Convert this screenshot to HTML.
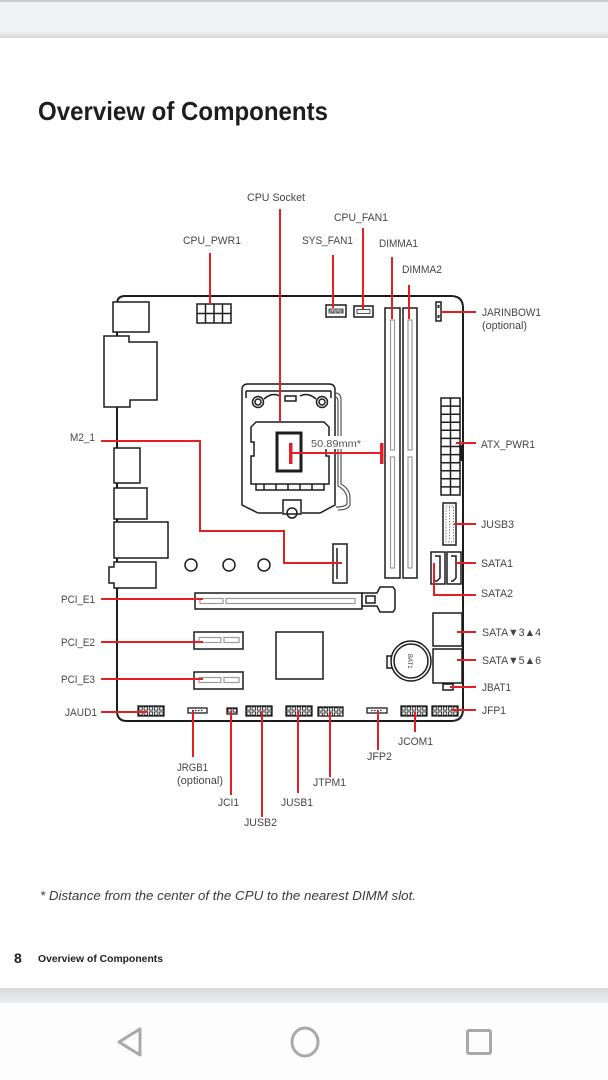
<!DOCTYPE html>
<html>
<head>
<meta charset="utf-8">
<style>
html,body{margin:0;padding:0;background:#fff;}
svg{display:block;}
.l{font-family:"Liberation Sans","DejaVu Sans",sans-serif;font-size:11px;fill:#454545;}
.r{stroke:#e31e24;stroke-width:2;fill:none;}
.b{stroke:#1c1c1c;stroke-width:1.5;fill:#fff;}
.bn{stroke:#1c1c1c;stroke-width:1.5;fill:none;}
.g{stroke:#9a9a9a;stroke-width:1.2;fill:none;}
</style>
</head>
<body>
<svg width="608" height="1080" viewBox="0 0 608 1080" xmlns="http://www.w3.org/2000/svg">
<defs>
  <pattern id="pins" width="5.2" height="5" patternUnits="userSpaceOnUse">
    <rect x="0.9" y="0.9" width="3.4" height="3.2" fill="none" stroke="#222" stroke-width="0.9"/>
  </pattern>
  <linearGradient id="tb" x1="0" y1="0" x2="0" y2="1">
    <stop offset="0" stop-color="#f0f1f3"/>
    <stop offset="1" stop-color="#d6d7d9"/>
  </linearGradient>
  <linearGradient id="bb" x1="0" y1="0" x2="0" y2="1">
    <stop offset="0" stop-color="#d8d9db"/>
    <stop offset="1" stop-color="#eeeff1"/>
  </linearGradient>
</defs>

<!-- top bar -->
<rect x="0" y="0" width="608" height="37" fill="#f0f1f3"/>
<rect x="0" y="0" width="608" height="2" fill="#c9cacc"/>
<rect x="0" y="32" width="608" height="6" fill="url(#tb)"/>

<!-- title -->
<text x="38" y="120" textLength="290" lengthAdjust="spacingAndGlyphs" style="font-family:'Liberation Sans',sans-serif;font-weight:bold;font-size:26px;fill:#1e1e1e;">Overview of Components</text>

<!-- board outline -->
<path d="M117,304 Q117,296 125,296 L451,296 Q463,296 463,308 L463,709 Q463,721 451,721 L127,721 Q117,721 117,711 Z" fill="none" stroke="#1c1c1c" stroke-width="2"/>

<!-- IO shield parts -->
<rect class="b" x="113" y="302" width="36" height="30"/>
<path class="b" d="M104,336 L129,336 L129,342 L157,342 L157,400 L130,400 L130,407 L104,407 Z"/>
<rect class="b" x="114" y="448" width="26" height="35"/>
<rect class="b" x="114" y="488" width="33" height="31"/>
<rect class="b" x="114" y="522" width="54" height="36"/>
<path class="b" d="M114,562 L156,562 L156,588 L114,588 L114,583 L109,583 L109,567 L114,567 Z"/>

<!-- CPU_PWR1 connector -->
<rect class="b" x="197" y="304" width="34" height="19"/>
<path class="bn" d="M205.5,304 V323 M214,304 V323 M222.5,304 V323 M197,313.5 H231"/>

<!-- fans -->
<rect class="b" x="326" y="305" width="20" height="12"/>
<rect x="329" y="309" width="14" height="4" fill="url(#pins)" stroke="#222" stroke-width="0.8"/>
<rect class="b" x="354" y="306" width="19" height="11"/>
<rect x="357" y="309.5" width="13" height="4" fill="none" stroke="#222" stroke-width="0.8"/>

<!-- DIMM slots -->
<rect class="b" x="385" y="308" width="15" height="270"/>
<rect class="b" x="403" y="308" width="14" height="270"/>
<rect class="g" x="390.5" y="320" width="4" height="130"/>
<rect class="g" x="390.5" y="457" width="4" height="111"/>
<rect class="g" x="408" y="320" width="4" height="130"/>
<rect class="g" x="408" y="457" width="4" height="111"/>

<!-- JARINBOW1 -->
<rect class="b" x="436" y="302" width="5" height="19"/>
<rect x="437.5" y="305" width="2" height="3" fill="#222"/>
<rect x="437.5" y="315" width="2" height="3" fill="#222"/>

<!-- ATX_PWR1 -->
<rect class="b" x="441" y="398" width="19" height="97"/>
<path class="bn" stroke-width="1.2" d="M450.5,398 V495 M441,406.1 H460 M441,414.2 H460 M441,422.3 H460 M441,430.3 H460 M441,438.4 H460 M441,446.5 H460 M441,454.6 H460 M441,462.7 H460 M441,470.8 H460 M441,478.8 H460 M441,486.9 H460"/>
<rect x="460" y="445" width="3" height="16" fill="#1c1c1c"/>

<!-- JUSB3 -->
<rect class="b" x="443" y="503" width="13" height="42"/>
<rect x="446" y="506" width="7.4" height="36" fill="none" stroke="#444" stroke-width="0.8" stroke-dasharray="1.2,1.6"/>
<path d="M449.7,507 V541" stroke="#444" stroke-width="0.8" stroke-dasharray="1.2,1.6"/>

<!-- SATA1/2 -->
<rect class="b" x="447" y="552" width="14" height="32"/>
<path class="bn" stroke-width="1.3" d="M451,556 L456,556 L456,578 L453,581 L451,581"/>
<rect class="b" x="431" y="552" width="14" height="32"/>
<path class="bn" stroke-width="1.3" d="M435,556 L440,556 L440,578 L437,581 L435,581"/>

<!-- CPU socket -->
<path class="bn" stroke-width="1.4" d="M258,513 L242,505 L242,390 Q242,384 248,384 L329,384 Q335,384 335,390 L335,505 L320,513 L302,513 M282,513 L258,513"/>
<path class="bn" stroke-width="1.2" d="M246,391 L331,391 M246,391 L246,398 M331,391 L331,398"/>
<rect class="bn" stroke-width="1.2" x="285" y="396" width="11" height="5"/>
<circle class="bn" stroke-width="1.3" cx="258" cy="402" r="5.5"/>
<circle class="bn" stroke-width="1" cx="258" cy="402" r="3"/>
<circle class="bn" stroke-width="1.3" cx="322" cy="402" r="5.5"/>
<circle class="bn" stroke-width="1" cx="322" cy="402" r="3"/>
<path class="bn" stroke-width="1.1" d="M264,399 Q272,392 280,396 M300,396 Q308,392 316,399"/>
<path fill="none" stroke="#555" stroke-width="1.2" d="M335,393 Q341,393 341,400 L341,484 Q350,489 350,498 L350,505 Q348,510 338,510 M335,397 Q338,397 338,402 L338,486 Q347,491 347,499 L347,504 Q345,507 336,507"/>
<path class="bn" stroke-width="1.4" d="M256,422 L324,422 L329,427 L329,442 L326,442 L326,456 L329,456 L329,484 L251,484 L251,456 L254,456 L254,442 L251,442 L251,427 Z"/>
<path class="bn" stroke-width="1.1" d="M256,484 L256,490 L324,490 L324,484 M264,484 V490 M276,484 V490 M288,484 V490 M300,484 V490 M312,484 V490"/>
<rect class="b" x="283" y="500" width="18" height="14"/>
<circle class="bn" stroke-width="1.3" cx="292" cy="513" r="5"/>
<rect x="277" y="433" width="24" height="38" fill="none" stroke="#1c1c1c" stroke-width="3"/>

<!-- distance marker -->
<rect x="310" y="436" width="52" height="13" fill="#fff"/>
<rect x="289" y="443" width="3.5" height="21" fill="#e31e24"/>
<path class="r" d="M291,453 H382"/>
<rect x="380" y="443" width="3.5" height="21" fill="#e31e24"/>
<text x="311" y="447" textLength="50" lengthAdjust="spacingAndGlyphs" style="font-family:'Liberation Sans',sans-serif;font-size:10.5px;fill:#555;">50.89mm*</text>

<!-- M.2 slot & holes -->
<rect class="b" x="333" y="544" width="14" height="39"/>
<path class="bn" stroke-width="1" d="M337,548 V579"/>
<circle class="bn" cx="191" cy="565" r="6"/>
<circle class="bn" cx="229" cy="565" r="6"/>
<circle class="bn" cx="264" cy="565" r="6"/>

<!-- PCIe slots -->
<rect class="b" x="195" y="593" width="167" height="16"/>
<rect class="g" x="200" y="598.5" width="23" height="5"/>
<rect class="g" x="226" y="598.5" width="129" height="5"/>
<path class="b" d="M362,593 L377,593 L380,587 L393,587 L395,590 L395,609 L393,612 L380,612 L377,606 L362,606 Z"/>
<rect class="bn" stroke-width="1.1" x="366" y="596" width="9" height="7"/>
<rect class="b" x="194" y="632" width="49" height="17"/>
<rect class="g" x="199" y="637.5" width="22" height="5"/>
<rect class="g" x="224" y="637.5" width="15" height="5"/>
<rect class="b" x="194" y="672" width="49" height="17"/>
<rect class="g" x="199" y="677.5" width="22" height="5"/>
<rect class="g" x="224" y="677.5" width="15" height="5"/>

<!-- chip -->
<rect class="b" x="276" y="632" width="47" height="47"/>

<!-- battery -->
<rect class="b" x="387" y="656" width="6" height="12"/>
<circle class="b" cx="411" cy="661" r="20"/>
<circle class="bn" stroke-width="1.2" cx="411" cy="661" r="17"/>
<text x="0" y="0" transform="translate(408,654) rotate(90)" style="font-family:'Liberation Sans',sans-serif;font-size:6px;fill:#333;">BAT1</text>

<!-- SATA 3-6, JBAT1 -->
<rect class="b" x="433" y="613" width="29" height="33"/>
<rect class="b" x="433" y="649" width="29" height="34"/>
<rect class="b" x="443" y="684" width="10" height="6"/>

<!-- bottom headers -->
<g transform="translate(138,706)"><rect width="26" height="10" fill="url(#pins)" stroke="#1c1c1c" stroke-width="1.3"/></g>
<g transform="translate(188,708)"><rect width="19" height="5" fill="#fff" stroke="#1c1c1c" stroke-width="1.3"/><path d="M4,2.5 H15" stroke="#222" stroke-width="1.2" stroke-dasharray="1.5,1.5"/></g>
<g transform="translate(227,708)"><rect width="10" height="6" fill="url(#pins)" stroke="#1c1c1c" stroke-width="1.3"/></g>
<g transform="translate(246,706)"><rect width="26" height="10" fill="url(#pins)" stroke="#1c1c1c" stroke-width="1.3"/></g>
<g transform="translate(286,706)"><rect width="26" height="10" fill="url(#pins)" stroke="#1c1c1c" stroke-width="1.3"/></g>
<g transform="translate(318,707)"><rect width="25" height="9" fill="url(#pins)" stroke="#1c1c1c" stroke-width="1.3"/></g>
<g transform="translate(367,708)"><rect width="20" height="5" fill="#fff" stroke="#1c1c1c" stroke-width="1.3"/><path d="M4,2.5 H16" stroke="#222" stroke-width="1.2" stroke-dasharray="1.5,1.5"/></g>
<g transform="translate(401,706)"><rect width="26" height="10" fill="url(#pins)" stroke="#1c1c1c" stroke-width="1.3"/></g>
<g transform="translate(432,706)"><rect width="26" height="10" fill="url(#pins)" stroke="#1c1c1c" stroke-width="1.3"/></g>

<!-- red leader lines -->
<path class="r" d="M210,253 V304"/>
<path class="r" d="M280,209 V421"/>
<path class="r" d="M333,255 V308"/>
<path class="r" d="M363,228 V309"/>
<path class="r" d="M392,257 V319"/>
<path class="r" d="M409,285 V319"/>
<path class="r" d="M440,312 H476"/>
<path class="r" d="M456,443 H476"/>
<path class="r" d="M454,524 H476"/>
<path class="r" d="M456,563 H476"/>
<path class="r" d="M434,563 V595 H476"/>
<path class="r" d="M457,632 H476"/>
<path class="r" d="M457,660 H476"/>
<path class="r" d="M450,687 H476"/>
<path class="r" d="M452,710 H476"/>
<path class="r" d="M101,441 H200 V531 H284 V563 H342"/>
<path class="r" d="M101,599 H203"/>
<path class="r" d="M101,642 H203"/>
<path class="r" d="M101,679 H203"/>
<path class="r" d="M101,712 H148"/>
<path class="r" d="M193,711 V757"/>
<path class="r" d="M231,711 V795"/>
<path class="r" d="M262,711 V817"/>
<path class="r" d="M298,711 V793"/>
<path class="r" d="M330,712 V777"/>
<path class="r" d="M378,711 V750"/>
<path class="r" d="M415,712 V732"/>

<!-- labels -->
<text class="l" x="247" y="201" textLength="58" lengthAdjust="spacingAndGlyphs">CPU Socket</text>
<text class="l" x="334" y="221" textLength="54" lengthAdjust="spacingAndGlyphs">CPU_FAN1</text>
<text class="l" x="183" y="244" textLength="58" lengthAdjust="spacingAndGlyphs">CPU_PWR1</text>
<text class="l" x="302" y="244" textLength="51" lengthAdjust="spacingAndGlyphs">SYS_FAN1</text>
<text class="l" x="379" y="247" textLength="39" lengthAdjust="spacingAndGlyphs">DIMMA1</text>
<text class="l" x="402" y="273" textLength="40" lengthAdjust="spacingAndGlyphs">DIMMA2</text>
<text class="l" x="482" y="316" textLength="59" lengthAdjust="spacingAndGlyphs">JARINBOW1</text>
<text class="l" x="482" y="329" textLength="45" lengthAdjust="spacingAndGlyphs">(optional)</text>
<text class="l" x="70" y="441" textLength="25" lengthAdjust="spacingAndGlyphs">M2_1</text>
<text class="l" x="481" y="448" textLength="54" lengthAdjust="spacingAndGlyphs">ATX_PWR1</text>
<text class="l" x="481" y="528" textLength="33" lengthAdjust="spacingAndGlyphs">JUSB3</text>
<text class="l" x="481" y="567" textLength="32" lengthAdjust="spacingAndGlyphs">SATA1</text>
<text class="l" x="481" y="597" textLength="32" lengthAdjust="spacingAndGlyphs">SATA2</text>
<text class="l" x="61" y="603" textLength="34" lengthAdjust="spacingAndGlyphs">PCI_E1</text>
<text class="l" x="482" y="636" textLength="59" lengthAdjust="spacingAndGlyphs">SATA▼3▲4</text>
<text class="l" x="61" y="646" textLength="34" lengthAdjust="spacingAndGlyphs">PCI_E2</text>
<text class="l" x="482" y="664" textLength="59" lengthAdjust="spacingAndGlyphs">SATA▼5▲6</text>
<text class="l" x="61" y="683" textLength="34" lengthAdjust="spacingAndGlyphs">PCI_E3</text>
<text class="l" x="482" y="691" textLength="29" lengthAdjust="spacingAndGlyphs">JBAT1</text>
<text class="l" x="482" y="714" textLength="24" lengthAdjust="spacingAndGlyphs">JFP1</text>
<text class="l" x="65" y="716" textLength="32" lengthAdjust="spacingAndGlyphs">JAUD1</text>
<text class="l" x="398" y="745" textLength="35" lengthAdjust="spacingAndGlyphs">JCOM1</text>
<text class="l" x="367" y="760" textLength="25" lengthAdjust="spacingAndGlyphs">JFP2</text>
<text class="l" x="177" y="771" textLength="31" lengthAdjust="spacingAndGlyphs">JRGB1</text>
<text class="l" x="177" y="784" textLength="46" lengthAdjust="spacingAndGlyphs">(optional)</text>
<text class="l" x="313" y="786" textLength="33" lengthAdjust="spacingAndGlyphs">JTPM1</text>
<text class="l" x="218" y="806" textLength="21" lengthAdjust="spacingAndGlyphs">JCI1</text>
<text class="l" x="281" y="806" textLength="32" lengthAdjust="spacingAndGlyphs">JUSB1</text>
<text class="l" x="244" y="826" textLength="33" lengthAdjust="spacingAndGlyphs">JUSB2</text>

<!-- footnote -->
<text x="40" y="900" textLength="376" lengthAdjust="spacingAndGlyphs" style="font-family:'Liberation Sans',sans-serif;font-style:italic;font-size:12.5px;fill:#3a3a3a;">* Distance from the center of the CPU to the nearest DIMM slot.</text>

<!-- page footer -->
<text x="14" y="963" style="font-family:'Liberation Sans',sans-serif;font-weight:bold;font-size:14px;fill:#1e1e1e;">8</text>
<text x="38" y="962" textLength="125" lengthAdjust="spacingAndGlyphs" style="font-family:'Liberation Sans',sans-serif;font-weight:bold;font-size:10px;fill:#1e1e1e;">Overview of Components</text>

<!-- bottom gray band & nav bar -->
<rect x="0" y="988" width="608" height="15" fill="url(#bb)"/>
<rect x="0" y="1003" width="608" height="77" fill="#fdfdfd"/>
<path d="M140,1029 L140,1055 L119,1042 Z" fill="none" stroke="#a9a9a9" stroke-width="3" stroke-linejoin="round"/>
<ellipse cx="305" cy="1042" rx="13" ry="14" fill="none" stroke="#a9a9a9" stroke-width="3"/>
<rect x="467.5" y="1030.5" width="23" height="23" rx="1.5" fill="none" stroke="#a9a9a9" stroke-width="3"/>
</svg>
</body>
</html>
